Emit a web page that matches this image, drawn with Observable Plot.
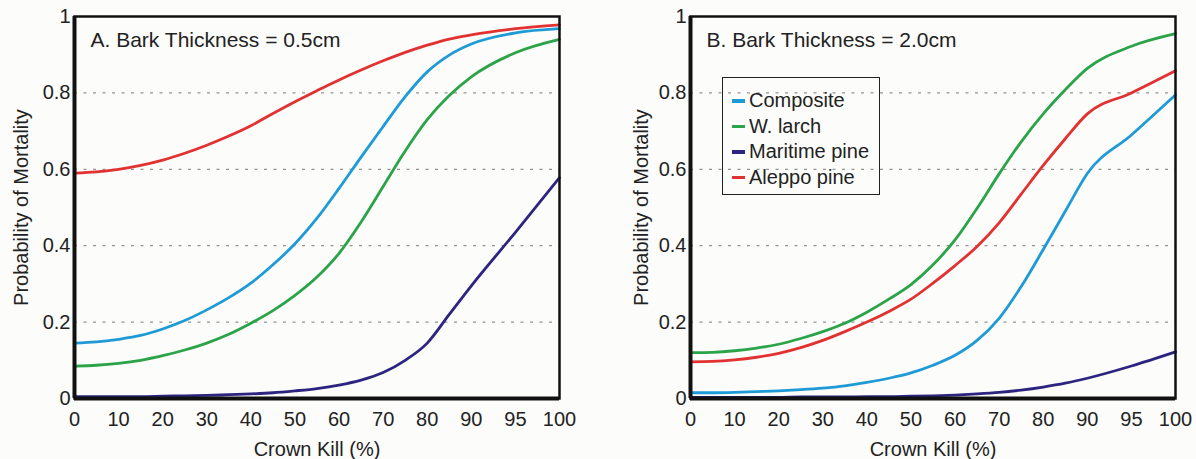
<!DOCTYPE html>
<html><head><meta charset="utf-8">
<script src="https://cdn.jsdelivr.net/npm/d3@7"></script>
<script src="https://cdn.jsdelivr.net/npm/@observablehq/plot@0.6"></script>
<style>
html,body{margin:0;padding:0;background:#fcfcfa;}
#wrap{position:relative;width:1196px;height:459px;display:flex;}
.panel{position:relative;width:598px;height:459px;}
.legend{position:absolute;left:124px;top:77px;width:158px;height:118px;border:1.5px solid #222;
  font-family:"Liberation Sans",Arial,sans-serif;font-size:20px;color:#222;padding-top:10px;box-sizing:border-box;}
.legend div{height:25.5px;line-height:25.5px;display:flex;align-items:center;white-space:nowrap;}
.legend span.sw{display:inline-block;width:13px;height:3.5px;margin-left:9px;margin-right:4px;}
</style>
</head><body>
<div id="wrap"><div class="panel" id="pa"></div><div class="panel" id="pb"></div></div>
<script>
const crownKill = [0,5,10,15,20,25,30,35,40,45,50,55,60,65,70,75,80,85,90,95,100];
const xTicks = [0,10,20,30,40,50,60,70,80,90,95,100];
const yTicks = [0,0.2,0.4,0.6,0.8,1];
const gridTicks = [0.2,0.4,0.6,0.8];
const species = ["Composite","W. larch","Maritime pine","Aleppo pine"];
const colors = ["#1e9ad6","#2ba348","#2d2480","#e23131"];

// Panel A: bark thickness 0.5 cm
const compositeA = [0.145,0.148,0.155,0.165,0.182,0.204,0.232,0.264,0.302,0.350,0.405,0.472,0.550,0.632,0.712,0.790,0.855,0.899,0.928,0.957,0.968];
const larchA     = [0.085,0.087,0.092,0.100,0.112,0.127,0.145,0.168,0.197,0.230,0.270,0.318,0.380,0.462,0.555,0.648,0.730,0.793,0.842,0.905,0.940];
const maritimeA  = [0.005,0.005,0.005,0.005,0.006,0.007,0.008,0.010,0.012,0.015,0.020,0.026,0.035,0.048,0.068,0.100,0.145,0.220,0.295,0.435,0.578];
const aleppoA    = [0.590,0.593,0.600,0.610,0.624,0.642,0.663,0.687,0.714,0.746,0.777,0.806,0.834,0.860,0.884,0.906,0.925,0.941,0.952,0.968,0.978];

// Panel B: bark thickness 2.0 cm
const compositeB = [0.015,0.015,0.016,0.018,0.020,0.023,0.027,0.033,0.042,0.053,0.067,0.087,0.113,0.152,0.210,0.293,0.390,0.490,0.589,0.690,0.795];
const larchB     = [0.120,0.121,0.125,0.132,0.142,0.157,0.175,0.197,0.226,0.260,0.298,0.350,0.415,0.498,0.588,0.672,0.745,0.808,0.864,0.922,0.955];
const maritimeB  = [0.003,0.003,0.003,0.003,0.003,0.004,0.004,0.004,0.005,0.005,0.006,0.007,0.009,0.012,0.016,0.022,0.030,0.040,0.053,0.085,0.122];
const aleppoB    = [0.096,0.097,0.101,0.108,0.118,0.133,0.152,0.175,0.200,0.228,0.260,0.302,0.348,0.398,0.460,0.535,0.610,0.680,0.745,0.800,0.858];

const FONT = '"Liberation Sans", Arial, sans-serif';

function makeChart(title, series, marginLeft, marginRight, labelOffset) {
  const rows = [];
  species.forEach((s, i) => series[i].forEach((p, j) => rows.push({species: s, kill: crownKill[j], p})));
  const W = 598;
  const left = marginLeft, right = W - marginRight;
  const x90 = left + (right - left) * 9 / 11;
  return Plot.plot({
    width: W, height: 459,
    marginLeft, marginRight, marginTop: 16, marginBottom: 61,
    style: {fontSize: "20px", fontFamily: FONT, background: "transparent", color: "#222"},
    x: {type: "linear", domain: [0, 90, 100], range: [left, x90, right], ticks: xTicks, tickSize: 0, tickPadding: 13,
        label: "Crown Kill (%)", labelAnchor: "center", labelArrow: "none", labelOffset: 57},
    y: {domain: [0, 1], ticks: yTicks, tickSize: 0, tickPadding: 4, tickFormat: d => String(d),
        label: "Probability of Mortality", labelAnchor: "center", labelArrow: "none", labelOffset},
    color: {domain: species, range: colors},
    marks: [
      Plot.gridY(gridTicks, {stroke: "#939393", strokeOpacity: 1, strokeDasharray: "3,6.5", strokeWidth: 1.2}),
      Plot.lineY(rows, {x: "kill", y: "p", stroke: "species", z: "species", strokeWidth: 2.8, curve: "monotone-x"}),
      Plot.frame({stroke: "#111", strokeWidth: 2.5}),
      Plot.ruleX([0], {stroke: "#111", strokeWidth: 4}),
      Plot.ruleY([0], {stroke: "#111", strokeWidth: 4}),
      Plot.text([title], {frameAnchor: "top-left", dx: 16, dy: 16, lineAnchor: "top", textAnchor: "start",
                          fontSize: 21, fill: "#222"})
    ]
  });
}

document.getElementById("pa").appendChild(
  makeChart("A. Bark Thickness = 0.5cm", [compositeA, larchA, maritimeA, aleppoA], 74, 39, 61));
const pb = document.getElementById("pb");
pb.appendChild(
  makeChart("B. Bark Thickness = 2.0cm", [compositeB, larchB, maritimeB, aleppoB], 92, 21, 57));

const lg = document.createElement("div");
lg.className = "legend";
species.forEach((s, i) => {
  const row = document.createElement("div");
  const sw = document.createElement("span");
  sw.className = "sw";
  sw.style.background = colors[i];
  row.appendChild(sw);
  row.appendChild(document.createTextNode(s));
  lg.appendChild(row);
});
pb.appendChild(lg);
</script>
</body></html>
